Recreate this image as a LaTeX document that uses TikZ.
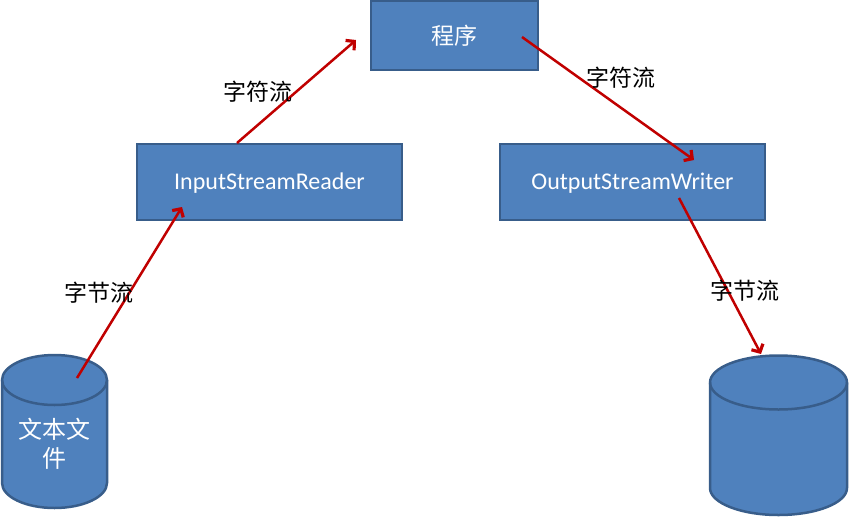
\documentclass[tikz,border=0pt]{standalone}
\usepackage{fontspec}
\setmainfont{Carlito}
\newfontfamily\cjk{Noto Sans CJK SC}
\usetikzlibrary{arrows.meta}
\definecolor{boxfill}{HTML}{4F81BD}
\definecolor{boxline}{HTML}{385D8A}
\definecolor{arr}{HTML}{C00000}
\tikzset{
  x=1pt, y=-1pt,
  blockbox/.style={draw=boxline, fill=boxfill, line width=2.5pt, text=white, inner sep=0pt},
  cyl/.style={draw=boxline, fill=boxfill, line width=2.5pt},
  flow/.style={draw=arr, line width=2.5pt, -{Straight Barb[length=6pt,width=13pt,line width=3.2pt]}},
  lbl/.style={font=\cjk\fontsize{23}{27}\selectfont, text=black, inner sep=0pt},
}
\begin{document}
\begin{tikzpicture}
\useasboundingbox (0,0) rectangle (849,517);
% boxes
\node[blockbox, minimum width=167pt, minimum height=69pt, font=\cjk\fontsize{23}{27}\selectfont] (prog) at (454.5,35.5) {程序};
\node[blockbox, minimum width=265pt, minimum height=76pt, font=\fontsize{24}{28}\selectfont, text depth=2pt] (isr) at (269.5,182) {InputStreamReader};
\node[blockbox, minimum width=265pt, minimum height=76pt, font=\fontsize{24}{28}\selectfont, text depth=2pt] (osw) at (632.5,182) {OutputStreamWriter};
% left cylinder
\path[cyl] (2,380) -- (2,483) arc[start angle=180, end angle=0, x radius=52.5, y radius=25] -- (107,380) arc[start angle=0, end angle=-180, x radius=52.5, y radius=25] -- cycle;
\draw[cyl, fill=none] (2,380) arc[start angle=180, end angle=0, x radius=52.5, y radius=25];
\node[font=\cjk\fontsize{24}{29}\selectfont, text=white, align=center, inner sep=0pt] (txt) at (54.5,444) {文本文\\件};
% right cylinder
\path[cyl] (710,382.5) -- (710,488) arc[start angle=180, end angle=0, x radius=68.5, y radius=27] -- (847,382.5) arc[start angle=0, end angle=-180, x radius=68.5, y radius=27] -- cycle;
\draw[cyl, fill=none] (710,382.5) arc[start angle=180, end angle=0, x radius=68.5, y radius=27];
% arrow end coordinates
\coordinate (a1s) at (77,378);
\coordinate (a1e) at (182,207);
\coordinate (a2s) at (237,143);
\coordinate (a2e) at (356,40);
\coordinate (a3s) at (522,37);
\coordinate (a3e) at (694,160);
\coordinate (a4s) at (679,198);
\coordinate (a4e) at (761,354);
\draw[flow] (a1s) -- (a1e);
\draw[flow] (a2s) -- (a2e);
\draw[flow] (a3s) -- (a3e);
\draw[flow] (a4s) -- (a4e);
% labels
\node[lbl] (l1) at (99,293) {字节流};
\node[lbl] (l2) at (258,92) {字符流};
\node[lbl] (l3) at (621,78) {字符流};
\node[lbl] (l4) at (745,291) {字节流};
\end{tikzpicture}
\end{document}
